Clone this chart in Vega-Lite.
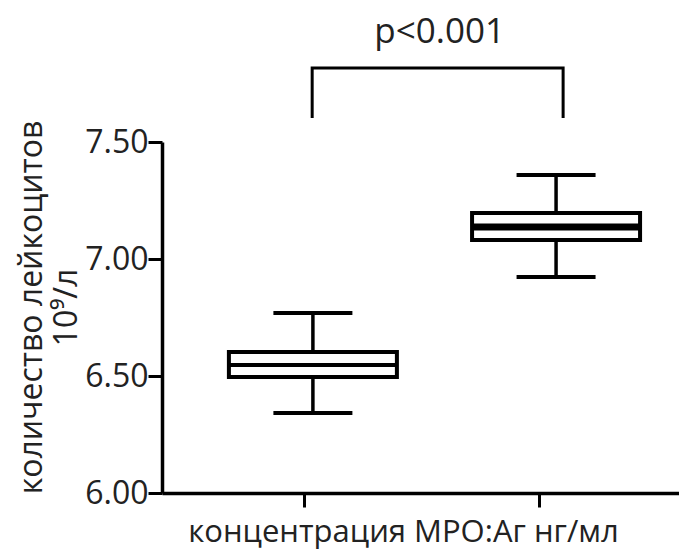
{
  "$schema": "https://vega.github.io/schema/vega-lite/v6.json",
  "width": 517,
  "height": 351,
  "autosize": "none",
  "padding": {"left": 162, "top": 142, "right": 0, "bottom": 59},
  "background": "white",
  "config": {
    "view": {"stroke": null},
    "font": "Open Sans",
    "axis": {
      "domainColor": "black",
      "domainWidth": 3.5,
      "tickColor": "black",
      "tickWidth": 3,
      "tickSize": 14,
      "grid": false,
      "labelFont": "Open Sans",
      "titleFont": "Open Sans",
      "labelColor": "#222",
      "titleColor": "#222",
      "titleFontWeight": "normal"
    }
  },
  "datasets": {
    "boxes": [
      {"group": 1, "min": 6.342, "q1": 6.496, "median": 6.547, "q3": 6.603, "max": 6.769},
      {"group": 2, "min": 6.923, "q1": 7.081, "median": 7.137, "q3": 7.197, "max": 7.359}
    ],
    "bracket": [
      {"pos": 0.997, "val": 7.603, "k": 1},
      {"pos": 0.997, "val": 7.816, "k": 2},
      {"pos": 2.029, "val": 7.816, "k": 3},
      {"pos": 2.029, "val": 7.603, "k": 4}
    ],
    "label": [
      {"pos": 1.521, "val": 7.923, "text": "p<0.001"}
    ]
  },
  "layer": [
    {
      "data": {"name": "boxes"},
      "mark": {"type": "rule", "stroke": "black", "strokeWidth": 3.5},
      "encoding": {
        "x": {
          "field": "group",
          "type": "quantitative",
          "scale": {"domain": [0.4, 2.485], "nice": false, "zero": false},
          "axis": {
            "values": [0.965, 1.928],
            "labels": false,
            "title": "концентрация МРО:Аг нг/мл",
            "titleFontSize": 31,
            "titleX": 241,
            "titleY": 48,
            "titleBaseline": "alphabetic"
          }
        },
        "y": {
          "field": "min",
          "type": "quantitative",
          "scale": {"domain": [6, 7.5], "nice": false, "zero": false},
          "axis": {
            "values": [6, 6.5, 7, 7.5],
            "format": ".2f",
            "labelFontSize": 32,
            "labelPadding": 0,
            "title": ["количество лейкоцитов", "10⁹/л"],
            "titleFontSize": 32,
            "titleLineHeight": 35,
            "titlePadding": 1,
            "titleY": 165
          }
        },
        "y2": {"field": "max"}
      }
    },
    {
      "data": {"name": "boxes"},
      "mark": {"type": "bar", "width": 168, "fill": "white", "stroke": "black", "strokeWidth": 4},
      "encoding": {
        "x": {"field": "group", "type": "quantitative"},
        "y": {"field": "q1", "type": "quantitative"},
        "y2": {"field": "q3"}
      }
    },
    {
      "data": {"name": "boxes"},
      "mark": {"type": "tick", "orient": "horizontal", "size": 79, "thickness": 4, "color": "black", "opacity": 1},
      "encoding": {
        "x": {"field": "group", "type": "quantitative"},
        "y": {"field": "min", "type": "quantitative"}
      }
    },
    {
      "data": {"name": "boxes"},
      "mark": {"type": "tick", "orient": "horizontal", "size": 79, "thickness": 4, "color": "black", "opacity": 1},
      "encoding": {
        "x": {"field": "group", "type": "quantitative"},
        "y": {"field": "max", "type": "quantitative"}
      }
    },
    {
      "data": {"name": "boxes"},
      "transform": [{"filter": "datum.group == 1"}],
      "mark": {"type": "tick", "orient": "horizontal", "size": 168, "thickness": 4, "color": "black", "opacity": 1},
      "encoding": {
        "x": {"field": "group", "type": "quantitative"},
        "y": {"field": "median", "type": "quantitative"}
      }
    },
    {
      "data": {"name": "boxes"},
      "transform": [{"filter": "datum.group == 2"}],
      "mark": {"type": "tick", "orient": "horizontal", "size": 168, "thickness": 7, "color": "black", "opacity": 1},
      "encoding": {
        "x": {"field": "group", "type": "quantitative"},
        "y": {"field": "median", "type": "quantitative"}
      }
    },
    {
      "data": {"name": "bracket"},
      "mark": {"type": "line", "color": "black", "strokeWidth": 3, "clip": false},
      "encoding": {
        "x": {"field": "pos", "type": "quantitative"},
        "y": {"field": "val", "type": "quantitative"},
        "order": {"field": "k"}
      }
    },
    {
      "data": {"name": "label"},
      "mark": {"type": "text", "fontSize": 35, "baseline": "alphabetic", "align": "center", "color": "#222", "clip": false},
      "encoding": {
        "x": {"field": "pos", "type": "quantitative"},
        "y": {"field": "val", "type": "quantitative"},
        "text": {"field": "text"}
      }
    }
  ]
}
